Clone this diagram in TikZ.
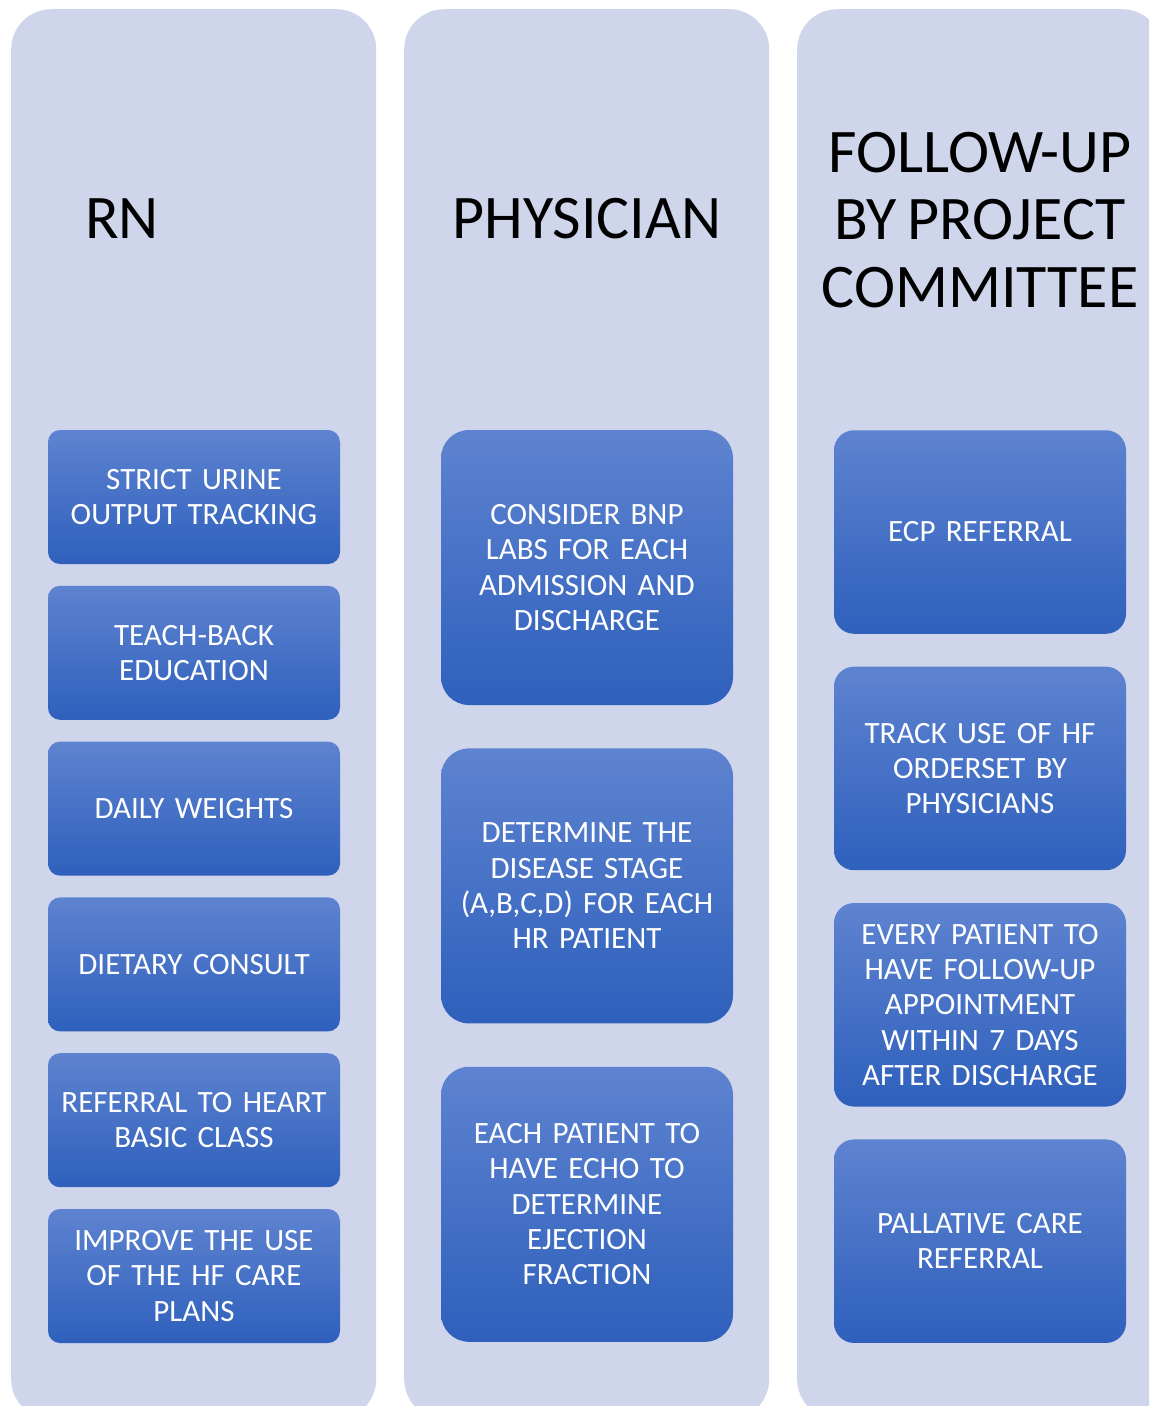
\documentclass[tikz,border=0pt]{standalone}
\usepackage{fontspec}
\setmainfont[WordSpace=0.8]{Carlito}
\usetikzlibrary{positioning}
\def\panelwidth{365pt}
\def\panelheight{1410pt}
\def\boxwidth{292pt}
\def\headerfont{\fontsize{62}{67.5}\selectfont}
\def\boxfont{\fontsize{31}{35.3}\selectfont}
\definecolor{panelfill}{HTML}{CFD5EA}
\definecolor{boxtop}{HTML}{5E83D0}
\definecolor{boxbottom}{HTML}{2E60BC}
\tikzset{
% Column panel
panel/.style={
	rectangle, rounded corners=40pt,
	fill=panelfill,
	minimum width=\panelwidth, minimum height=\panelheight,
	anchor=north west, inner sep=0pt,
},
% Column header
header/.style={
	font=\headerfont, align=center, text=black,
},
% Action box
action/.style={
	rectangle, inner sep=0pt,
	top color=boxtop, bottom color=boxbottom,
	minimum width=\boxwidth, text width=285pt, align=center,
	text=white, font=\boxfont,
},
rn_box/.style={action, rounded corners=12pt, minimum height=134pt},
phys_box/.style={action, rounded corners=28pt, minimum height=275pt},
follow_box/.style={action, rounded corners=20pt, minimum height=203.5pt},
}

\begin{document}
\begin{tikzpicture}[x=1pt, y=-1pt]
		\useasboundingbox (0,0) rectangle (1149,1406);
		\clip (0,0) rectangle (1149,1406);

		% Panels
		\node[panel] (rn) at (11,9) {};
		\node[panel] (phys) at (404,9) {};
		\node[panel] (follow) at (797,9) {};

		% Headers
		\node[header, anchor=base] (rn_head) at (122,238) {RN};
		\node[header, anchor=base] (phys_head) at (587,238) {PHYSICIAN};
		\node[header] (follow_head) at (980,220) {FOLLOW-UP\\BY PROJECT\\COMMITTEE};

		% RN
		\node[rn_box] (rn1) at (194,497) {STRICT URINE\\OUTPUT TRACKING};
		\node[rn_box, below=21.4pt of rn1] (rn2) {TEACH-BACK\\EDUCATION};
		\node[rn_box, below=21.4pt of rn2] (rn3) {DAILY WEIGHTS};
		\node[rn_box, below=21.4pt of rn3] (rn4) {DIETARY CONSULT};
		\node[rn_box, below=21.4pt of rn4] (rn5) {REFERRAL TO HEART\\BASIC CLASS};
		\node[rn_box, below=21.4pt of rn5] (rn6) {IMPROVE THE USE\\OF THE HF CARE\\PLANS};

		% Physician
		\node[phys_box] (phys1) at (587,567.5) {CONSIDER BNP\\LABS FOR EACH\\ADMISSION AND\\DISCHARGE};
		\node[phys_box, below=43pt of phys1] (phys2) {DETERMINE THE\\DISEASE STAGE\\(A,B,C,D) FOR EACH\\HR PATIENT};
		\node[phys_box, below=43pt of phys2] (phys3) {EACH PATIENT TO\\HAVE ECHO TO\\DETERMINE\\EJECTION\\FRACTION};

		% Follow-up
		\node[follow_box] (follow1) at (980,532) {ECP REFERRAL};
		\node[follow_box, below=32.5pt of follow1] (follow2) {TRACK USE OF HF\\ORDERSET BY\\PHYSICIANS};
		\node[follow_box, below=32.5pt of follow2] (follow3) {EVERY PATIENT TO\\HAVE FOLLOW-UP\\APPOINTMENT\\WITHIN 7 DAYS\\AFTER DISCHARGE};
		\node[follow_box, below=32.5pt of follow3] (follow4) {PALLATIVE CARE\\REFERRAL};
	\end{tikzpicture}
\end{document}
